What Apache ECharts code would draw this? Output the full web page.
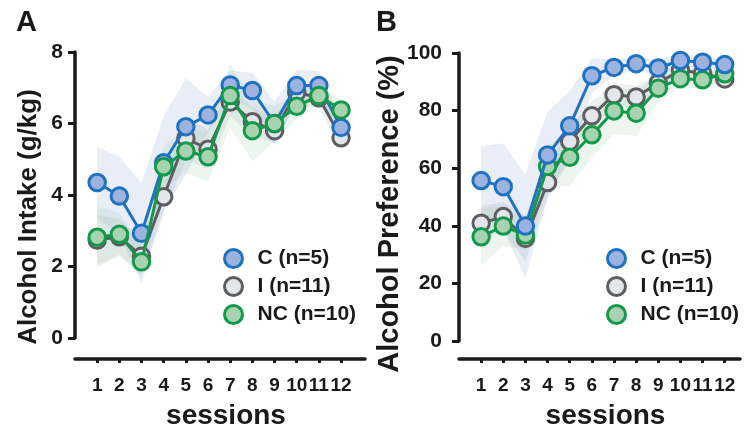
<!DOCTYPE html>
<html><head><meta charset="utf-8">
<script src="https://cdn.jsdelivr.net/npm/echarts@6/dist/echarts.min.js"></script>
<style>html,body{margin:0;padding:0;background:#fff}#c{width:751px;height:428px}</style>
</head><body><div id="c"></div>
<script>
var sessions = [1,2,3,4,5,6,7,8,9,10,11,12];
var groupNames = ['C (n=5)', 'I (n=11)', 'NC (n=10)'];

// Panel A: Alcohol intake (g/kg), means and SEM
var intakeC  = [4.35, 3.97, 2.93, 4.90, 5.91, 6.24, 7.08, 6.92, 6.00, 7.06, 7.06, 5.89];
var intakeI  = [2.74, 2.83, 2.29, 3.95, 5.59, 5.28, 6.60, 6.05, 5.80, 6.87, 6.72, 5.60];
var intakeNC = [2.82, 2.90, 2.13, 4.79, 5.23, 5.07, 6.78, 5.80, 6.00, 6.48, 6.78, 6.38];
var intakeSemC  = [1.00, 1.10, 1.40, 1.30, 1.35, 0.50, 0.40, 0.50, 0.60, 0.45, 0.40, 0.30];
var intakeSemI  = [0.70, 0.50, 0.50, 0.50, 0.60, 0.55, 0.40, 0.40, 0.35, 0.30, 0.30, 0.30];
var intakeSemNC = [0.85, 0.60, 0.40, 0.60, 0.60, 0.70, 0.90, 0.85, 0.50, 0.35, 0.30, 0.30];

// Panel B: Alcohol preference (%), means and SEM
var prefC  = [55.7, 53.6, 39.9, 64.6, 74.7, 92.1, 95.0, 96.3, 94.8, 97.4, 96.8, 96.0];
var prefI  = [40.9, 43.2, 35.6, 55.0, 69.3, 78.2, 85.5, 84.7, 89.6, 94.0, 93.0, 91.0];
var prefNC = [36.2, 39.9, 36.8, 60.6, 63.8, 71.6, 79.9, 79.1, 87.8, 91.1, 90.7, 92.8];
var prefSemC  = [12, 15, 18, 15, 12, 6, 3, 2, 3, 2, 2, 2];
var prefSemI  = [6, 5, 8, 5, 5, 5, 4, 4, 3, 2, 2, 2];
var prefSemNC = [10, 7, 5, 7, 10, 8, 8, 8, 5, 3, 3, 2];

var lineCol = {C:'#1f72c2', I:'#5d5e61', NC:'#12994a'};
var fillCol = {C:'#9db3df', I:'#e4e5ea', NC:'#a8d3b0'};
var bandCol = {C:'rgba(150,175,225,0.22)', I:'rgba(120,130,150,0.12)', NC:'rgba(140,200,150,0.16)'};
var txt = '#1a1a1a';
var F = 'Liberation Sans, Arial, sans-serif';
var FN = 'Liberation Sans Narrow, Arial Narrow, Liberation Sans, sans-serif';

function pts(vals){ return sessions.map(function(s,i){ return [s, vals[i]]; }); }

// SEM band as one polygon, placed through the axis scales (api.coord)
function bandSeries(key, mean, sem, idx){
  var data = sessions.map(function(s,i){ return [s, mean[i]-sem[i], mean[i]+sem[i]]; });
  return {type:'custom', xAxisIndex:idx, yAxisIndex:idx, silent:true, z:1,
    data:[[0]],
    renderItem:function(params, api){
      var upper = data.map(function(d){ return api.coord([d[0], d[2]]); });
      var lower = data.slice().reverse().map(function(d){ return api.coord([d[0], d[1]]); });
      return {type:'polygon', shape:{points:upper.concat(lower)}, style:{fill:bandCol[key], stroke:null}};
    }};
}
function mainSeries(key, name, mean, idx, z){
  return {type:'line', name:name, xAxisIndex:idx, yAxisIndex:idx, data:pts(mean),
    symbol:'circle', symbolSize:16.5, z:z,
    lineStyle:{color:lineCol[key], width:3},
    itemStyle:{color:fillCol[key], borderColor:lineCol[key], borderWidth:3}};
}
function xAx(max, offset, gridIdx){
  return {type:'value', gridIndex:gridIdx, min:0, max:max, offset:offset,
    name:'sessions', nameLocation:'middle', nameGap:43,
    nameTextStyle:{fontFamily:F, fontWeight:'bold', fontSize:28, color:txt, padding:[0,0,0,12]},
    axisLine:{show:true, onZero:false, lineStyle:{color:txt, width:3.5}},
    axisTick:{show:true, length:4, lineStyle:{color:txt, width:3}, customValues:sessions},
    axisLabel:{show:true, customValues:sessions, margin:17, fontFamily:FN, fontWeight:'bold', fontSize:19, color:txt},
    splitLine:{show:false}};
}
function yAx(gridIdx, max, interval, offset, margin){
  return {type:'value', gridIndex:gridIdx, min:0, max:max, interval:interval, offset:offset,
    axisLine:{show:true, lineStyle:{color:txt, width:3.5}},
    axisTick:{show:true, length:7, lineStyle:{color:txt, width:3}},
    axisLabel:{margin:margin, fontFamily:F, fontWeight:'bold', fontSize:21, color:txt},
    splitLine:{show:false}};
}
function legendFor(left){
  return {show:true, orient:'vertical', left:left, top:243, itemWidth:30, itemHeight:18, itemGap:7,
    icon:'circle', selectedMode:false,
    textStyle:{fontFamily:F, fontWeight:'bold', fontSize:21, color:txt, lineHeight:18, padding:[0,0,0,4]},
    data:[
      {name:groupNames[0], itemStyle:{color:fillCol.C, borderColor:lineCol.C, borderWidth:3}},
      {name:groupNames[1], itemStyle:{color:fillCol.I, borderColor:lineCol.I, borderWidth:3}},
      {name:groupNames[2], itemStyle:{color:fillCol.NC, borderColor:lineCol.NC, borderWidth:3}}
    ]};
}

var series = [
  bandSeries('C', intakeC, intakeSemC, 0), bandSeries('I', intakeI, intakeSemI, 0), bandSeries('NC', intakeNC, intakeSemNC, 0),
  bandSeries('C', prefC, prefSemC, 1), bandSeries('I', prefI, prefSemI, 1), bandSeries('NC', prefNC, prefSemNC, 1),
  mainSeries('I', groupNames[1], intakeI, 0, 3),
  mainSeries('C', groupNames[0], intakeC, 0, 4),
  mainSeries('NC', groupNames[2], intakeNC, 0, 5),
  mainSeries('I', groupNames[1], prefI, 1, 3),
  mainSeries('NC', groupNames[2], prefNC, 1, 4),
  mainSeries('C', groupNames[0], prefC, 1, 5)
];

var option = {
  animation:false,
  backgroundColor:'#fff',
  grid:[
    {left:75, top:52, width:290, height:286, outerBoundsMode:'none', containLabel:false},
    {left:459, top:53, width:281, height:288, outerBoundsMode:'none', containLabel:false}
  ],
  xAxis:[xAx(13.08, 21, 0), xAx(12.69, 18, 1)],
  yAxis:[yAx(0, 8, 2, 0, 12), yAx(1, 100, 20, 3, 14)],
  legend:[legendFor(218), legendFor(601)],
  graphic:[
    {type:'text', left:16, top:8, style:{text:'A', fontFamily:F, fontWeight:'bold', fontSize:29, fill:txt}},
    {type:'text', left:376, top:8, style:{text:'B', fontFamily:F, fontWeight:'bold', fontSize:29, fill:txt}},
    {type:'text', x:29, y:217, rotation:Math.PI/2,
     style:{text:'Alcohol Intake (g/kg)', fontFamily:F, fontWeight:'bold', fontSize:26, fill:txt, align:'center', verticalAlign:'middle'}},
    {type:'text', x:390, y:214, rotation:Math.PI/2,
     style:{text:'Alcohol Preference (%)', fontFamily:F, fontWeight:'bold', fontSize:29, fill:txt, align:'center', verticalAlign:'middle'}}
  ],
  series:series
};
var chart = echarts.init(document.getElementById('c'), null, {renderer:'canvas'});
chart.setOption(option);
</script>
</body></html>
